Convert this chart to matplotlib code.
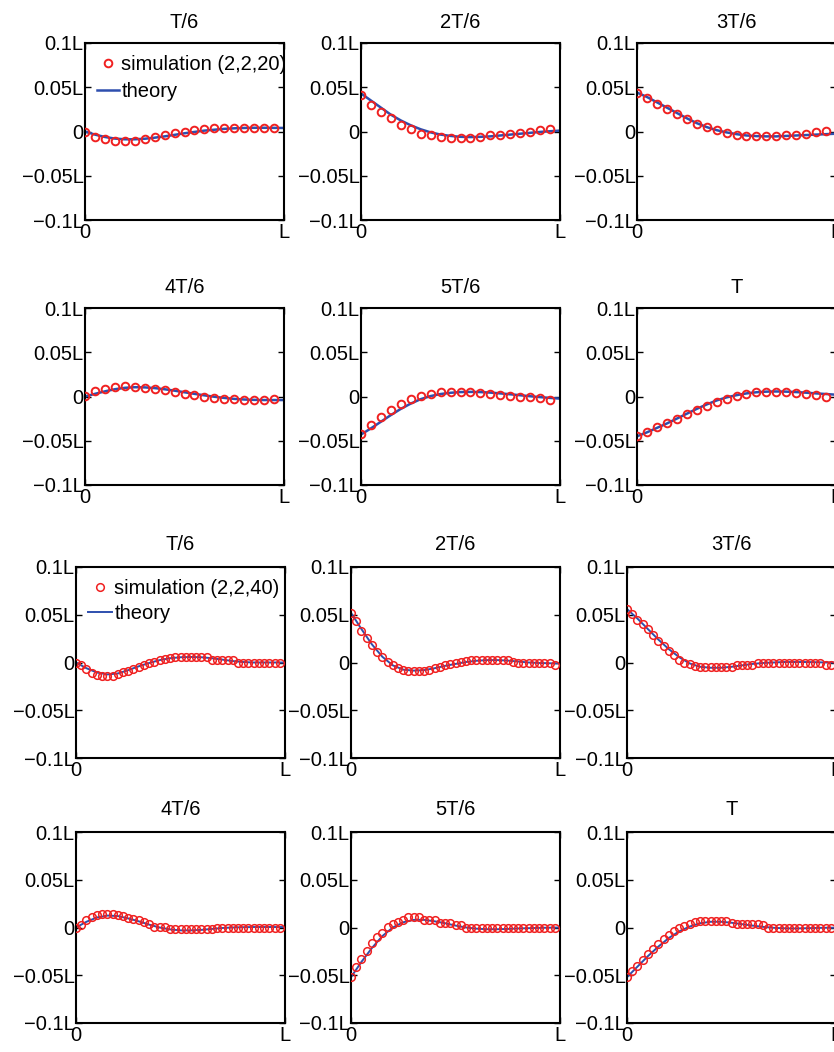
import matplotlib.pyplot as plt
import numpy as np

plt.rcParams['font.family'] = ['Liberation Sans', 'DejaVu Sans']
plt.rcParams['font.size'] = 14.5

titles = ["T/6", "2T/6", "3T/6", "4T/6", "5T/6", "T"]

# sample positions along the beam (fraction of L)
x_sim20 = np.arange(20) / 20
x_sim40 = np.arange(40) / 40
x_theory = np.arange(21) / 20

# (2,2,20) run, deflection / L
sim20_1 = [0.0, -0.0057, -0.0087, -0.011, -0.011, -0.0102, -0.0087, -0.0064, -0.0042, -0.0019,
           0.0, 0.0015, 0.0026, 0.0034, 0.0038, 0.004, 0.0041, 0.0041, 0.0041, 0.0041]
sim20_2 = [0.041, 0.0305, 0.022, 0.0147, 0.0079, 0.0023, -0.0023, -0.0041, -0.006, -0.0072,
           -0.0072, -0.0068, -0.006, -0.0045, -0.0038, -0.0026, -0.0015, -0.0004, 0.0015, 0.003]
sim20_3 = [0.043, 0.038, 0.0316, 0.0256, 0.0196, 0.0139, 0.009, 0.0049, 0.0015, -0.0015,
           -0.0038, -0.0049, -0.0053, -0.0053, -0.0049, -0.0041, -0.0034, -0.0023, -0.0011, 0.0004]
sim20_4 = [0.0008, 0.0057, 0.0088, 0.0107, 0.0118, 0.011, 0.0099, 0.0084, 0.0069, 0.005,
           0.003, 0.0015, 0.0, -0.0015, -0.0027, -0.003, -0.0034, -0.0034, -0.0034, -0.003]
sim20_5 = [-0.042, -0.0324, -0.0236, -0.0152, -0.0084, -0.003, 0.0008, 0.003, 0.0046, 0.0053,
           0.0053, 0.0046, 0.0038, 0.0027, 0.0019, 0.0011, 0.0, -0.0008, -0.0019, -0.0038]
sim20_6 = [-0.045, -0.04, -0.035, -0.03, -0.025, -0.02, -0.015, -0.0107, -0.0057, -0.0023,
           0.0008, 0.003, 0.0046, 0.0053, 0.0053, 0.005, 0.0042, 0.003, 0.0015, -0.0008]

theory20_1 = [0.0, -0.0035, -0.0062, -0.008, -0.0088, -0.0088, -0.0082, -0.007, -0.0055, -0.0038,
              -0.002, -0.0005, 0.001, 0.002, 0.003, 0.0036, 0.004, 0.0042, 0.0042, 0.0041, 0.004]
theory20_2 = [0.043, 0.035, 0.027, 0.019, 0.0125, 0.007, 0.0025, -0.001, -0.0035, -0.005,
              -0.006, -0.0063, -0.006, -0.0055, -0.0045, -0.0035, -0.0025, -0.0015, -0.0005, 0.0003, 0.001]
theory20_3 = [0.044, 0.039, 0.033, 0.027, 0.021, 0.015, 0.0095, 0.005, 0.0015, -0.001,
              -0.003, -0.0045, -0.0052, -0.0055, -0.0055, -0.005, -0.0045, -0.004, -0.0035, -0.003, -0.0025]
theory20_4 = [0.0, 0.003, 0.0058, 0.0082, 0.0098, 0.0105, 0.0103, 0.0095, 0.0082, 0.0066,
              0.0048, 0.003, 0.0013, -0.0003, -0.0016, -0.0027, -0.0034, -0.0038, -0.004, -0.004, -0.004]
theory20_5 = [-0.043, -0.036, -0.0285, -0.021, -0.014, -0.008, -0.003, 0.0005, 0.0028, 0.0042,
              0.005, 0.0052, 0.005, 0.0044, 0.0035, 0.0025, 0.0014, 0.0003, -0.0007, -0.0016, -0.0024]
theory20_6 = [-0.045, -0.0405, -0.0355, -0.0305, -0.025, -0.0195, -0.014, -0.009, -0.0045, -0.001,
              0.0015, 0.0035, 0.0048, 0.0055, 0.0057, 0.0055, 0.005, 0.0043, 0.0035, 0.0028, 0.002]

# (2,2,40) run, deflection / L
sim40_1 = [0.0, -0.003, -0.007, -0.011, -0.013, -0.0145, -0.0145, -0.0145, -0.012, -0.0095,
           -0.009, -0.007, -0.005, -0.003, -0.0005, 0.001, 0.0025, 0.004, 0.005, 0.006,
           0.006, 0.006, 0.006, 0.006, 0.006, 0.006, 0.003, 0.003, 0.003, 0.003,
           0.003, 0.0, 0.0, 0.0, 0.0, 0.0, 0.0, 0.0, 0.0, 0.0]
sim40_2 = [0.052, 0.043, 0.0335, 0.0255, 0.0185, 0.0115, 0.0055, 0.001, -0.0026, -0.006,
           -0.008, -0.0086, -0.0086, -0.0086, -0.0086, -0.008, -0.006, -0.0044, -0.0026, -0.0017,
           -0.001, 0.0009, 0.002, 0.0026, 0.0026, 0.0026, 0.0026, 0.0026, 0.0026, 0.0026,
           0.0026, 0.001, 0.0, 0.0, 0.0, 0.0, 0.0, 0.0, 0.0, -0.0026]
sim40_3 = [0.056, 0.051, 0.045, 0.04, 0.035, 0.029, 0.023, 0.017, 0.012, 0.0075,
           0.003, 0.0, -0.002, -0.0037, -0.0044, -0.0044, -0.0044, -0.0044, -0.0044, -0.0044,
           -0.0044, -0.0026, -0.0026, -0.0026, -0.0026, 0.0, 0.0, 0.0, 0.0, 0.0,
           0.0, 0.0, 0.0, 0.0, 0.0, 0.0, 0.0, 0.0, -0.0026, -0.0026]
sim40_4 = [0.0, 0.003, 0.0075, 0.011, 0.0135, 0.0145, 0.0145, 0.0145, 0.0135, 0.012,
           0.0095, 0.0085, 0.0075, 0.0055, 0.0035, 0.001, 0.001, 0.001, -0.002, -0.002,
           -0.002, -0.002, -0.002, -0.002, -0.002, -0.002, -0.002, 0.0, 0.0, 0.0,
           0.0, 0.0, 0.0, 0.0, 0.0, 0.0, 0.0, 0.0, 0.0, 0.0]
sim40_5 = [-0.052, -0.0417, -0.033, -0.0243, -0.0166, -0.0103, -0.0054, 0.0009, 0.0037, 0.0061,
           0.0079, 0.0106, 0.0106, 0.0106, 0.0079, 0.0079, 0.0079, 0.005, 0.0044, 0.0044,
           0.0026, 0.0026, 0.0, 0.0, 0.0, 0.0, 0.0, 0.0, 0.0, 0.0,
           0.0, 0.0, 0.0, 0.0, 0.0, 0.0, 0.0, 0.0, 0.0, 0.0]
sim40_6 = [-0.052, -0.046, -0.04, -0.034, -0.028, -0.022, -0.017, -0.012, -0.008, -0.004,
           -0.001, 0.002, 0.004, 0.0055, 0.0065, 0.007, 0.007, 0.007, 0.007, 0.0065,
           0.005, 0.004, 0.0035, 0.0035, 0.0035, 0.0035, 0.003, 0.0, 0.0, 0.0,
           0.0, 0.0, 0.0, 0.0, 0.0, 0.0, 0.0, 0.0, 0.0, 0.0]

theory40_1 = [0.0, -0.006, -0.0105, -0.0125, -0.0115, -0.008, -0.004, -0.0005, 0.0025, 0.0045,
              0.0055, 0.0058, 0.0055, 0.0045, 0.003, 0.0015, 0.0005, 0.0, 0.0, 0.0, 0.0]
theory40_2 = [0.052, 0.035, 0.019, 0.006, -0.003, -0.0075, -0.0085, -0.008, -0.006, -0.0035,
              -0.0015, 0.0005, 0.0018, 0.0025, 0.0025, 0.002, 0.001, 0.0, -0.0005, -0.0008, -0.001]
theory40_3 = [0.056, 0.046, 0.035, 0.024, 0.014, 0.0055, -0.001, -0.0045, -0.0055, -0.0055,
              -0.0045, -0.003, -0.0015, -0.0005, 0.0, 0.0005, 0.0005, 0.0005, 0.0003, 0.0, 0.0]
theory40_4 = [0.0, 0.006, 0.0105, 0.0125, 0.012, 0.0095, 0.0065, 0.003, 0.0, -0.002,
              -0.003, -0.003, -0.0025, -0.0015, -0.0005, 0.0, 0.0003, 0.0005, 0.0005, 0.0005, 0.0005]
theory40_5 = [-0.052, -0.036, -0.0215, -0.009, 0.0, 0.0055, 0.008, 0.008, 0.0065, 0.0045,
              0.002, 0.0, -0.0012, -0.0018, -0.0018, -0.0015, -0.001, -0.0007, -0.0004, -0.0002, 0.0]
theory40_6 = [-0.052, -0.041, -0.03, -0.02, -0.011, -0.004, 0.001, 0.0045, 0.006, 0.006,
              0.005, 0.0035, 0.002, 0.0007, -0.0003, -0.0008, -0.001, -0.0008, -0.0005, -0.0003, -0.0002]

sim20 = [sim20_1, sim20_2, sim20_3, sim20_4, sim20_5, sim20_6]
theory20 = [theory20_1, theory20_2, theory20_3, theory20_4, theory20_5, theory20_6]
sim40 = [sim40_1, sim40_2, sim40_3, sim40_4, sim40_5, sim40_6]
theory40 = [theory40_1, theory40_2, theory40_3, theory40_4, theory40_5, theory40_6]

W, H = 834, 1052
fig = plt.figure(figsize=(W / 100, H / 100), dpi=100)


def make_ax(x0, y0, w, h):
    # pixel box (left, top, width, height) -> figure fraction
    return fig.add_axes([x0 / W, 1 - (y0 + h) / H, w / W, h / H])


def draw_panel(ax, title, xs, ys, xt, yt, lw, ms, mew, title_pad):
    ax.plot(xs, ys, 'o', color='#f02020', mfc='none', ms=ms, mew=mew, zorder=3)
    ax.plot(xt, yt, '-', color='#2e4fae', lw=lw, zorder=2)
    ax.set_xlim(0, 1)
    ax.set_ylim(-0.1, 0.1)
    ax.set_xticks([0, 1])
    ax.set_xticklabels(['0', 'L'])
    ax.set_yticks([-0.1, -0.05, 0, 0.05, 0.1])
    ax.set_yticklabels(['\u22120.1L', '\u22120.05L', '0', '0.05L', '0.1L'])
    ax.tick_params(direction='in', length=4, width=1, right=True, top=True)
    ax.tick_params(axis='y', pad=1)
    ax.tick_params(axis='x', pad=2)
    for sp in ax.spines.values():
        sp.set_linewidth(1.5)
    ax.set_title(title, pad=title_pad, fontsize=14.5)
    return ax


# upper block: (2,2,20)
cols_top = [85, 361, 637]
rows_top = [43, 308]
for k in range(6):
    r, c = divmod(k, 3)
    ax = make_ax(cols_top[c], rows_top[r], 199, 177)
    draw_panel(ax, titles[k], x_sim20, sim20[k], x_theory, theory20[k],
               lw=1.8, ms=5.5, mew=1.4, title_pad=11)
    if k == 0:
        ax.legend(['simulation (2,2,20)', 'theory'], loc='upper left', frameon=False,
                  numpoints=1, handlelength=1.1, handletextpad=0.1,
                  borderaxespad=0.3, labelspacing=0.4, borderpad=0.3)

# lower block: (2,2,40)
cols_bot = [76, 351, 627]
rows_bot = [567, 832]
for k in range(6):
    r, c = divmod(k, 3)
    ax = make_ax(cols_bot[c], rows_bot[r], 209, 191)
    draw_panel(ax, titles[k], x_sim40, sim40[k], x_theory, theory40[k],
               lw=1.4, ms=5.5, mew=1.1, title_pad=12)
    if k == 0:
        ax.legend(['simulation (2,2,40)', 'theory'], loc='upper left', frameon=False,
                  numpoints=1, handlelength=1.2, handletextpad=0.1,
                  borderaxespad=0.3, labelspacing=0.3, borderpad=0.3)

fig.savefig('out.png', dpi=100)
